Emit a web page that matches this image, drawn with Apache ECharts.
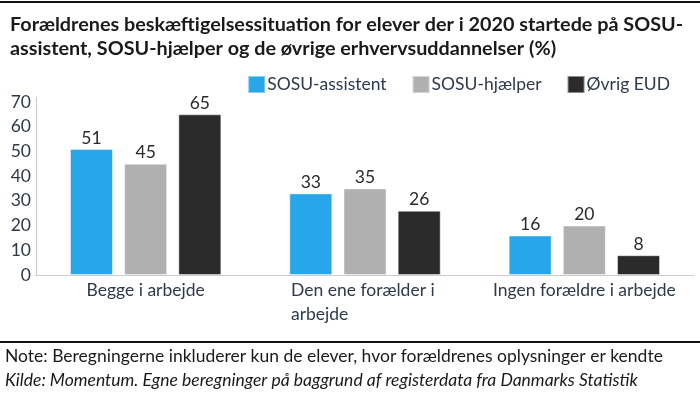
<!DOCTYPE html>
<html>
<head>
<meta charset="utf-8">
<script src="https://cdn.jsdelivr.net/npm/echarts@6/dist/echarts.min.js"></script>
<style>html,body{margin:0;padding:0;background:#fff;}#c{width:700px;height:394px;}</style>
</head>
<body>
<div id="c"></div>
<script>
const categories = ['Begge i arbejde', 'Den ene forælder i arbejde', 'Ingen forældre i arbejde'];
const seriesNames = ['SOSU-assistent', 'SOSU-hjælper', 'Øvrig EUD'];
const sosuAssistent = [51, 33, 16];
const sosuHjaelper = [45, 35, 20];
const oevrigEUD = [65, 26, 8];
const yTicks = [0, 10, 20, 30, 40, 50, 60, 70];
const colors = ['#27a6ea', '#b0b0b0', '#2b2b2b'];
const titleText = 'Forældrenes beskæftigelsessituation for elever der i 2020 startede på SOSU-\nassistent, SOSU-hjælper og de øvrige erhvervsuddannelser (%)';
const noteText = 'Note: Beregningerne inkluderer kun de elever, hvor forældrenes oplysninger er kendte';
const sourceText = 'Kilde: Momentum. Egne beregninger på baggrund af registerdata fra Danmarks Statistik';

const font = 'Lato, "Noto Sans", sans-serif';
const fs = 17.5;
const textColor = '#2d3a4b';
const chart = echarts.init(document.getElementById('c'));
const data = [sosuAssistent, sosuHjaelper, oevrigEUD];

chart.setOption({
  animation: false,
  textStyle: { fontFamily: font },
  title: [{
    text: titleText, left: 5, top: 8,
    textStyle: { fontFamily: font, fontSize: 19.8, fontWeight: 'bold', color: '#1a1a1a', lineHeight: 24 }
  }],
  graphic: [
    { type: 'rect', shape: { x: 0, y: 1, width: 700, height: 2 }, style: { fill: '#111' } },
    { type: 'rect', shape: { x: 0, y: 341, width: 700, height: 2 }, style: { fill: '#111' } },
    { type: 'text', left: 5, top: 347, style: { text: noteText, font: fs + 'px ' + font, fill: '#1a1a1a' } },
    { type: 'text', left: 5, top: 371, style: { text: sourceText, font: 'italic ' + fs + 'px ' + font, fill: '#1a1a1a' } }
  ],
  legend: {
    data: seriesNames, right: 25, top: 70,
    itemWidth: 17, itemHeight: 17, itemGap: 25, icon: 'rect',
    textStyle: { fontFamily: font, fontSize: fs, color: textColor, padding: [0, 0, 0, -3] }
  },
  grid: { left: 36, right: 6, top: 97, bottom: 119, containLabel: false },
  xAxis: {
    type: 'category', data: categories,
    axisLine: { lineStyle: { color: '#cccccc' } },
    axisTick: { show: false },
    axisLabel: {
      interval: 0, margin: 3,
      formatter: function (v) {
        if (v === 'Den ene forælder i arbejde') return '{l|Den ene forælder i}\n{l|arbejde}';
        return '{c|' + v + '}';
      },
      rich: {
        l: { fontFamily: font, fontSize: fs, color: textColor, width: 148, align: 'left', lineHeight: 24 },
        c: { fontFamily: font, fontSize: fs, color: textColor, lineHeight: 24 }
      }
    }
  },
  yAxis: {
    type: 'value', min: 0, max: 72, interval: 10,
    axisLine: { show: true, lineStyle: { color: '#cccccc' } },
    axisTick: { show: false },
    splitLine: { show: false },
    axisLabel: {
      margin: 5, fontFamily: font, fontSize: fs, color: textColor,
      formatter: function (v) { return yTicks.indexOf(v) >= 0 ? String(v) : ''; }
    }
  },
  series: seriesNames.map(function (n, i) {
    return {
      name: n, type: 'bar', data: data[i], barWidth: 43, barGap: '26%',
      itemStyle: { color: colors[i], borderColor: 'rgba(255,255,255,0.45)', borderWidth: 1 },
      label: { show: true, position: 'top', distance: 2, fontFamily: font, fontSize: fs, color: '#2a2a2a' }
    };
  })
});
</script>
</body>
</html>
